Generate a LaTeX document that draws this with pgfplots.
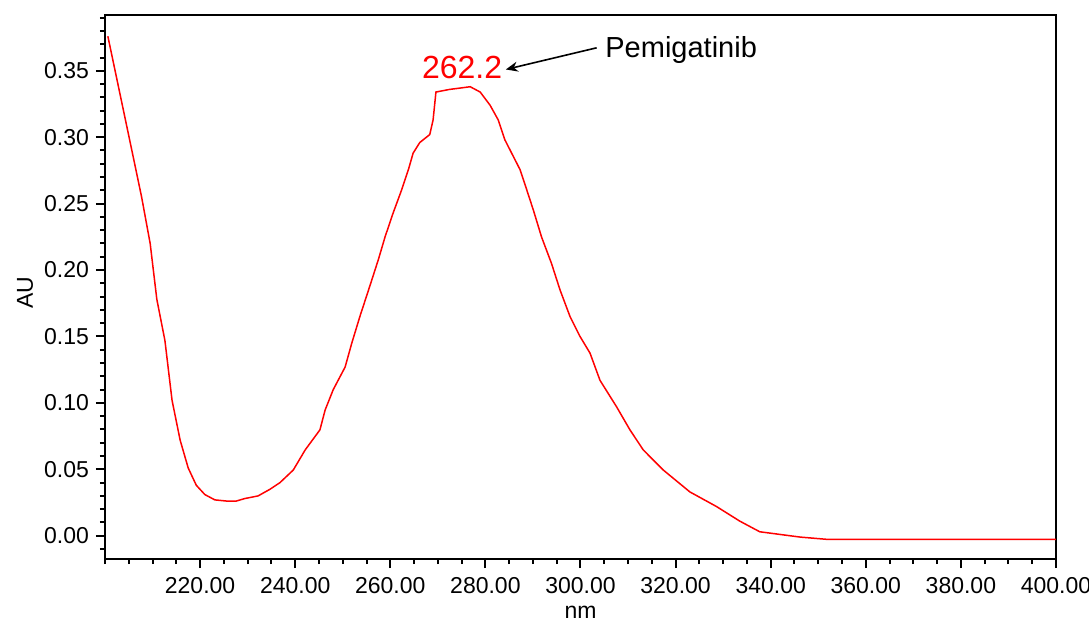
\documentclass[border=0pt]{standalone}
\usepackage{fontspec}
\setmainfont{Liberation Sans}
\usepackage{pgfplots}
\pgfplotsset{compat=1.18}
\usetikzlibrary{arrows.meta}
\begin{document}
\begin{tikzpicture}
\begin{axis}[
  scale only axis,
  width=475.5pt, height=272pt,
  xmin=200, xmax=400,
  ymin=-0.0175, ymax=0.392,
  xtick={220,240,...,400},
  minor xtick={200,205,...,400},
  ytick={0,0.05,0.1,0.15,0.2,0.25,0.3,0.35},
  minor ytick={-0.01,0,0.01,0.02,0.03,0.04,0.05,0.06,0.07,0.08,0.09,0.1,0.11,0.12,0.13,0.14,0.15,0.16,0.17,0.18,0.19,0.2,0.21,0.22,0.23,0.24,0.25,0.26,0.27,0.28,0.29,0.3,0.31,0.32,0.33,0.34,0.35,0.36,0.37,0.38,0.39},
  xtick pos=left, ytick pos=left,
  tick align=outside,
  major tick length=4.5pt, minor tick length=2.5pt,
  every tick/.style={black, line width=1pt},
  axis line style={black, line width=1.3pt},
  /pgf/number format/fixed,
  /pgf/number format/fixed zerofill,
  /pgf/number format/precision=2,
  /pgf/number format/assume math mode=true,
  scaled x ticks=false, scaled y ticks=false,
  tick label style={font=\fontsize{11.5}{12}\selectfont},
  xticklabel style={yshift=-1pt},
  xlabel={nm},
  ylabel={AU},
  label style={font=\fontsize{11.5}{12}\selectfont},
  xlabel style={at={(rel axis cs:0.5,0)}, anchor=center, yshift=-26.5pt},
  ylabel style={at={(rel axis cs:0,0.489)}, anchor=center, yshift=40pt},
  clip=false,
]
\addplot[red, line width=0.75pt] coordinates {
(200.6,0.376)
(205.3,0.296)
(207.7,0.255)
(209.5,0.220)
(210.9,0.178)
(212.6,0.147)
(214.1,0.102)
(215.8,0.072)
(217.5,0.051)
(219.2,0.038)
(221.0,0.031)
(223.1,0.027)
(225.9,0.026)
(227.5,0.026)
(229.4,0.028)
(232.2,0.030)
(234.7,0.035)
(236.8,0.040)
(239.6,0.0495)
(242.1,0.0646)
(245.2,0.0797)
(246.3,0.0947)
(248.0,0.110)
(250.5,0.127)
(251.9,0.145)
(253.6,0.165)
(255.7,0.188)
(257.5,0.208)
(258.9,0.225)
(260.6,0.243)
(262.4,0.2605)
(263.8,0.2755)
(264.8,0.288)
(266.2,0.296)
(268.3,0.302)
(269.0,0.313)
(269.6,0.334)
(272.5,0.336)
(274.7,0.337)
(276.8,0.338)
(278.9,0.334)
(281.0,0.324)
(282.7,0.313)
(284.1,0.298)
(287.3,0.2755)
(288.0,0.268)
(290.1,0.245)
(291.8,0.225)
(293.9,0.205)
(295.7,0.185)
(297.8,0.165)
(299.9,0.150)
(302.0,0.1375)
(304.1,0.117)
(307.6,0.097)
(310.4,0.0797)
(313.2,0.0646)
(317.4,0.0495)
(323.0,0.033)
(328.6,0.022)
(333.5,0.011)
(337.7,0.003)
(343.0,0.0005)
(346.2,-0.001)
(351.8,-0.0027)
(400,-0.0027)
};
\node[anchor=base west, inner sep=0pt, text=red, font=\fontsize{16}{16}\selectfont] at (axis cs:266.6,0.344) {262.2};
\node[anchor=base west, inner sep=0pt, font=\fontsize{14.5}{15}\selectfont] at (axis cs:305.15,0.3598) {Pemigatinib};
\draw[-{Stealth[length=6pt,width=5pt]}, line width=0.8pt, black] (axis cs:303.4,0.3673) -- (axis cs:284.3,0.351);
\end{axis}
\pgfresetboundingbox
\useasboundingbox (-52.5pt,-31.5pt) rectangle (492pt,279.5pt);
\end{tikzpicture}
\end{document}
